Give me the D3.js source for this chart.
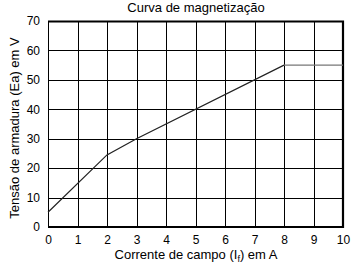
<!DOCTYPE html>
<html>
<head>
<meta charset="utf-8">
<script src="https://cdn.jsdelivr.net/npm/d3@7"></script>
<style>
  body { margin: 0; background: #fff; }
  text { font-family: "Liberation Sans", Arial, sans-serif; fill: #000; }
</style>
</head>
<body>
<div id="chart-area"></div>
<script>
// data
const corrente = [0, 2, 3, 8, 10]
const tensao = [5, 24.5, 30, 55, 55]
const xTicks = [0, 1, 2, 3, 4, 5, 6, 7, 8, 9, 10]
const yTicks = [0, 10, 20, 30, 40, 50, 60, 70]

const MARGIN = { LEFT: 48, RIGHT: 16, TOP: 21, BOTTOM: 44 }
const WIDTH = 359 - MARGIN.LEFT - MARGIN.RIGHT
const HEIGHT = 271 - MARGIN.TOP - MARGIN.BOTTOM

const svg = d3.select("#chart-area").append("svg")
    .attr("width", 359)
    .attr("height", 271)

const g = svg.append("g")
    .attr("transform", `translate(${MARGIN.LEFT}, ${MARGIN.TOP})`)

const x = d3.scaleLinear().domain([0, 10]).range([0, WIDTH])
const y = d3.scaleLinear().domain([0, 70]).range([HEIGHT, 0])

// grid
g.append("g").selectAll("line").data(xTicks).join("line")
    .attr("x1", d => Math.round(x(d)) + 0.5).attr("x2", d => Math.round(x(d)) + 0.5)
    .attr("y1", 0).attr("y2", HEIGHT)
    .attr("stroke", "#000").attr("stroke-width", 1)
g.append("g").selectAll("line").data(yTicks).join("line")
    .attr("y1", d => Math.round(y(d)) + 0.5).attr("y2", d => Math.round(y(d)) + 0.5)
    .attr("x1", 0).attr("x2", WIDTH)
    .attr("stroke", "#000").attr("stroke-width", 1)

// frame: heavier top, right, bottom
g.append("path")
    .attr("d", `M0,0.5H${WIDTH}V${HEIGHT}H0`)
    .attr("fill", "none").attr("stroke", "#000").attr("stroke-width", 2.2)

// axes labels
const xAxis = g.append("g")
    .attr("transform", `translate(0, ${HEIGHT})`)
    .call(d3.axisBottom(x).tickValues(xTicks).tickSize(0).tickPadding(8))
const yAxis = g.append("g")
    .call(d3.axisLeft(y).tickValues(yTicks).tickSize(0).tickPadding(8))
xAxis.select(".domain").remove()
yAxis.select(".domain").remove()
svg.selectAll(".tick text").attr("font-size", "12px")
    .attr("font-family", "Liberation Sans, Arial, sans-serif")

// curve
const line = d3.line()
    .x((d, i) => x(corrente[i]))
    .y(d => y(d))
g.append("path")
    .attr("fill", "none")
    .attr("stroke", "#222")
    .attr("stroke-width", 1.2)
    .attr("d", line(tensao.slice(0, 4)))
g.append("path")
    .attr("fill", "none")
    .attr("stroke", "#777")
    .attr("stroke-width", 1.2)
    .attr("d", d3.line().x((d, i) => x(corrente[i + 3])).y(d => y(d))(tensao.slice(3)))

// title
svg.append("text")
    .attr("x", 196).attr("y", 12)
    .attr("text-anchor", "middle")
    .attr("font-size", "13px")
    .text("Curva de magnetização")

// x label
const xl = svg.append("text")
    .attr("x", 196).attr("y", 259)
    .attr("text-anchor", "middle")
    .attr("font-size", "13px")
xl.append("tspan").text("Corrente de campo (I")
xl.append("tspan").attr("font-size", "9px").attr("dy", 3).text("f")
xl.append("tspan").attr("dy", -3).text(") em A")

// y label
svg.append("text")
    .attr("transform", "rotate(-90)")
    .attr("x", -128)
    .attr("y", 19)
    .attr("text-anchor", "middle")
    .attr("font-size", "13px")
    .text("Tensão de armadura (Ea) em V")
</script>
</body>
</html>
